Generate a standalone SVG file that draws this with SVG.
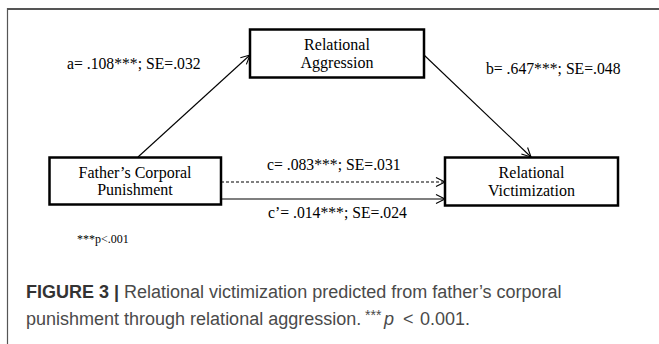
<svg xmlns="http://www.w3.org/2000/svg" width="659" height="344" viewBox="0 0 659 344">
  <style>
    .box { fill: #fff; stroke: #000; stroke-width: 2.5; }
    .nt { font-family: "Liberation Serif", "Times New Roman", serif; font-size: 16px; fill: #000; text-anchor: middle; }
    .lbl { font-family: "Liberation Serif", "Times New Roman", serif; font-size: 15.7px; fill: #000; }
    .edge { stroke: #000; stroke-width: 1.1; fill: none; }
    .cap { font-family: "Liberation Sans", Arial, sans-serif; font-size: 18px; fill: #4a4a4a; }
  </style>
  <defs>
    <marker id="arr" markerUnits="userSpaceOnUse" markerWidth="12" markerHeight="12" viewBox="-1 -6 12 12" refX="9" refY="0" orient="auto">
      <path d="M0,-4.5 L9,0 L0,4.5" fill="none" stroke="#000" stroke-width="1.1"/>
    </marker>
  </defs>
  <rect x="0" y="0" width="659" height="344" fill="#fff"/>
  <g id="frame">
    <line x1="7.5" y1="9" x2="659" y2="9" stroke="#555" stroke-width="2"/>
    <line x1="7.5" y1="8" x2="7.5" y2="344" stroke="#555" stroke-width="1.2"/>
  </g>
  <g id="connectors">
    <line class="edge" x1="138" y1="157" x2="250" y2="55" marker-end="url(#arr)"/>
    <line class="edge" x1="424" y1="55" x2="531" y2="157" marker-end="url(#arr)"/>
    <line class="edge" x1="221" y1="182" x2="445" y2="182" stroke-dasharray="3,2" marker-end="url(#arr)"/>
    <line class="edge" x1="221" y1="199" x2="445" y2="199" marker-end="url(#arr)"/>
    <text class="lbl" x="67" y="69">a= .108***; SE=.032</text>
    <text class="lbl" x="486" y="74">b= .647***; SE=.048</text>
    <text class="lbl" x="267" y="170">c= .083***; SE=.031</text>
    <text class="lbl" x="268" y="218">c’= .014***; SE=.024</text>
  </g>
  <g id="node-aggression">
    <rect class="box" x="250" y="29.5" width="174" height="48"/>
    <text class="nt" x="337" y="50">Relational</text>
    <text class="nt" x="337" y="68">Aggression</text>
  </g>
  <g id="node-father">
    <rect class="box" x="49.5" y="157.5" width="171.5" height="47"/>
    <text class="nt" x="135" y="178">Father’s Corporal</text>
    <text class="nt" x="135" y="195">Punishment</text>
  </g>
  <g id="node-victimization">
    <rect class="box" x="445" y="157.5" width="173" height="48"/>
    <text class="nt" x="531.5" y="178">Relational</text>
    <text class="nt" x="531.5" y="196">Victimization</text>
  </g>
  <g id="note">
    <text class="lbl" x="77" y="243" style="font-size:12px">***p&lt;.001</text>
  </g>
  <g id="caption">
    <text class="cap" x="26" y="298"><tspan font-weight="bold" fill="#333">FIGURE 3 |</tspan> Relational victimization predicted from father’s corporal</text>
    <text class="cap" x="26" y="325">punishment through relational aggression. <tspan x="365" y="320" font-size="14px">***</tspan><tspan x="384" y="325" font-style="italic">p</tspan><tspan x="403" y="325">&lt;</tspan><tspan x="420" y="325">0.001.</tspan></text>
  </g>
</svg>
